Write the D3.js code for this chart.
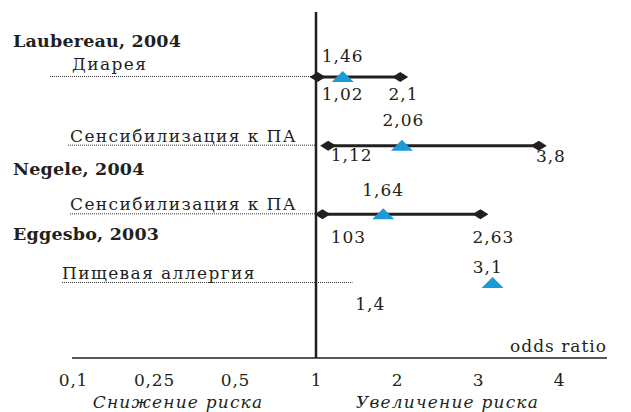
<!DOCTYPE html>
<meta charset="utf-8">
<html>
<head><title>odds ratio forest plot</title>
<script src="https://cdn.jsdelivr.net/npm/d3@7/dist/d3.min.js"></script>
<style>
    body { margin: 0; background: #fff; }
    text { font-family: "DejaVu Serif", "Liberation Serif", serif; fill: #231f20; }
    .study { font-weight: bold; font-size: 17.5px; letter-spacing: 0.2px; }
    .rowlab { font-size: 17px; letter-spacing: 1.4px; }
    .num { font-size: 17px; letter-spacing: 1px; }
    .tick text { font-size: 17px; letter-spacing: 0.8px; }
    .oddsr { font-size: 17px; letter-spacing: 1px; }
    .note { font-size: 17px; font-style: italic; letter-spacing: 1.2px; }
</style>
</head>
<body>
<div id="chart"></div>
<script>
// data
var tickValues = [0.1, 0.25, 0.5, 1, 2, 3, 4];
var studies = ["Laubereau, 2004", "Negele, 2004", "Eggesbo, 2003"];
var outcomes = ["Диарея", "Сенсибилизация к ПА", "Сенсибилизация к ПА", "Пищевая аллергия"];
var ciLow  = [1.02, 1.15, 1.08, null];
var ciHigh = [2.04, 3.75, 3.03, null];
var pointEst = [1.33, 2.06, 1.83, 3.18];
var numLabels = ["1,46", "1,02", "2,1", "2,06", "1,12", "3,8", "1,64", "103", "2,63", "3,1", "1,4"];
var numLabelRow = [0, 0, 0, 1, 1, 1, 2, 2, 2, 3, 3];
var numLabelAt  = [1.33, 1.33, 2.08, 2.08, 1.44, 3.9, 1.83, 1.4, 3.19, 3.12, 1.67];

// layout
var W = 631, H = 412;
var labelDy = [-15, 23, 23, -20, 15, 16, -18, 29, 29, -10, 27];
var studyY = [47, 175, 240];
var outcomeX = [72, 70, 70, 62];
var dotStart = [50, 68, 70, 62];
var axisY = 358;

var svg = d3.select("#chart").append("svg")
    .attr("width", W).attr("height", H);

var x = d3.scaleLinear()
    .domain(tickValues)
    .range(tickValues.map(function(d, i) { return 73 + i * 81; }));

var y = d3.scalePoint()
    .domain(d3.range(outcomes.length))
    .range([77, 283]);

// study names
svg.selectAll(".study").data(studies).enter().append("text")
    .attr("class", "study")
    .attr("x", 13)
    .attr("y", function(d, i) { return studyY[i]; })
    .text(function(d) { return d; });

// dotted leaders
svg.selectAll(".leader").data(outcomes).enter().append("line")
    .attr("class", "leader")
    .attr("x1", function(d, i) { return dotStart[i]; })
    .attr("x2", function(d, i) { return i == 3 ? x(1.45) : x(1); })
    .attr("y1", function(d, i) { return y(i) - 0.5; })
    .attr("y2", function(d, i) { return y(i) - 0.5; })
    .attr("stroke", "#333")
    .attr("stroke-width", 1)
    .attr("stroke-dasharray", "1,1");

svg.selectAll(".rowlab").data(outcomes).enter().append("text")
    .attr("class", "rowlab")
    .attr("x", function(d, i) { return outcomeX[i]; })
    .attr("y", function(d, i) { return y(i) - (i == 0 ? 7 : 4); })
    .text(function(d) { return d; });

// axis
var axis = svg.append("g")
    .attr("class", "axis")
    .attr("transform", "translate(0," + axisY + ")")
    .call(d3.axisBottom(x).tickValues(tickValues).tickSize(0).tickPadding(16)
        .tickFormat(function(d) { return String(d).replace(".", ","); }));
axis.select(".domain").remove();
axis.selectAll(".tick text").attr("fill", "#231f20").attr("font-family", null).attr("font-size", null);

svg.append("line")
    .attr("x1", 72).attr("x2", 607)
    .attr("y1", axisY).attr("y2", axisY)
    .attr("stroke", "#231f20").attr("stroke-width", 1.5);

svg.append("line")
    .attr("x1", x(1)).attr("x2", x(1))
    .attr("y1", 12).attr("y2", axisY)
    .attr("stroke", "#231f20").attr("stroke-width", 2.5);

svg.append("text")
    .attr("class", "oddsr")
    .attr("x", 607).attr("y", axisY - 6)
    .attr("text-anchor", "end")
    .text("odds ratio");

svg.append("text").attr("class", "note")
    .attr("x", d3.mean([x(0.1), x(0.5)]) + 24).attr("y", 408)
    .attr("text-anchor", "middle")
    .text("Снижение риска");
svg.append("text").attr("class", "note")
    .attr("x", d3.mean([x(2), x(3)]) + 10).attr("y", 408)
    .attr("text-anchor", "middle")
    .text("Увеличение риска");

// confidence intervals
var ci = d3.range(outcomes.length).filter(function(i) { return ciLow[i] != null; });

svg.selectAll(".ci").data(ci).enter().append("line")
    .attr("class", "ci")
    .attr("x1", function(i) { return x(ciLow[i]); })
    .attr("x2", function(i) { return x(ciHigh[i]); })
    .attr("y1", function(i) { return y(i); })
    .attr("y2", function(i) { return y(i); })
    .attr("stroke", "#231f20").attr("stroke-width", 3);

var diamond = "M-8,0L0,-5L8,0L0,5Z";
ci.forEach(function(i) {
    [ciLow[i], ciHigh[i]].forEach(function(v) {
        svg.append("path")
            .attr("d", diamond)
            .attr("transform", "translate(" + x(v) + "," + y(i) + ")")
            .attr("fill", "#231f20");
    });
});

// point estimates
svg.selectAll(".est").data(pointEst).enter().append("path")
    .attr("class", "est")
    .attr("d", "M-11,5L0,-6L11,5Z")
    .attr("transform", function(d, i) { return "translate(" + x(d) + "," + y(i) + ")"; })
    .attr("fill", "#1a9ad6");

// value labels
svg.selectAll(".num").data(numLabels).enter().append("text")
    .attr("class", "num")
    .attr("text-anchor", "middle")
    .attr("x", function(d, i) { return x(numLabelAt[i]); })
    .attr("y", function(d, i) { return y(numLabelRow[i]) + labelDy[i]; })
    .text(function(d) { return d; });
</script>
</body>
</html>
